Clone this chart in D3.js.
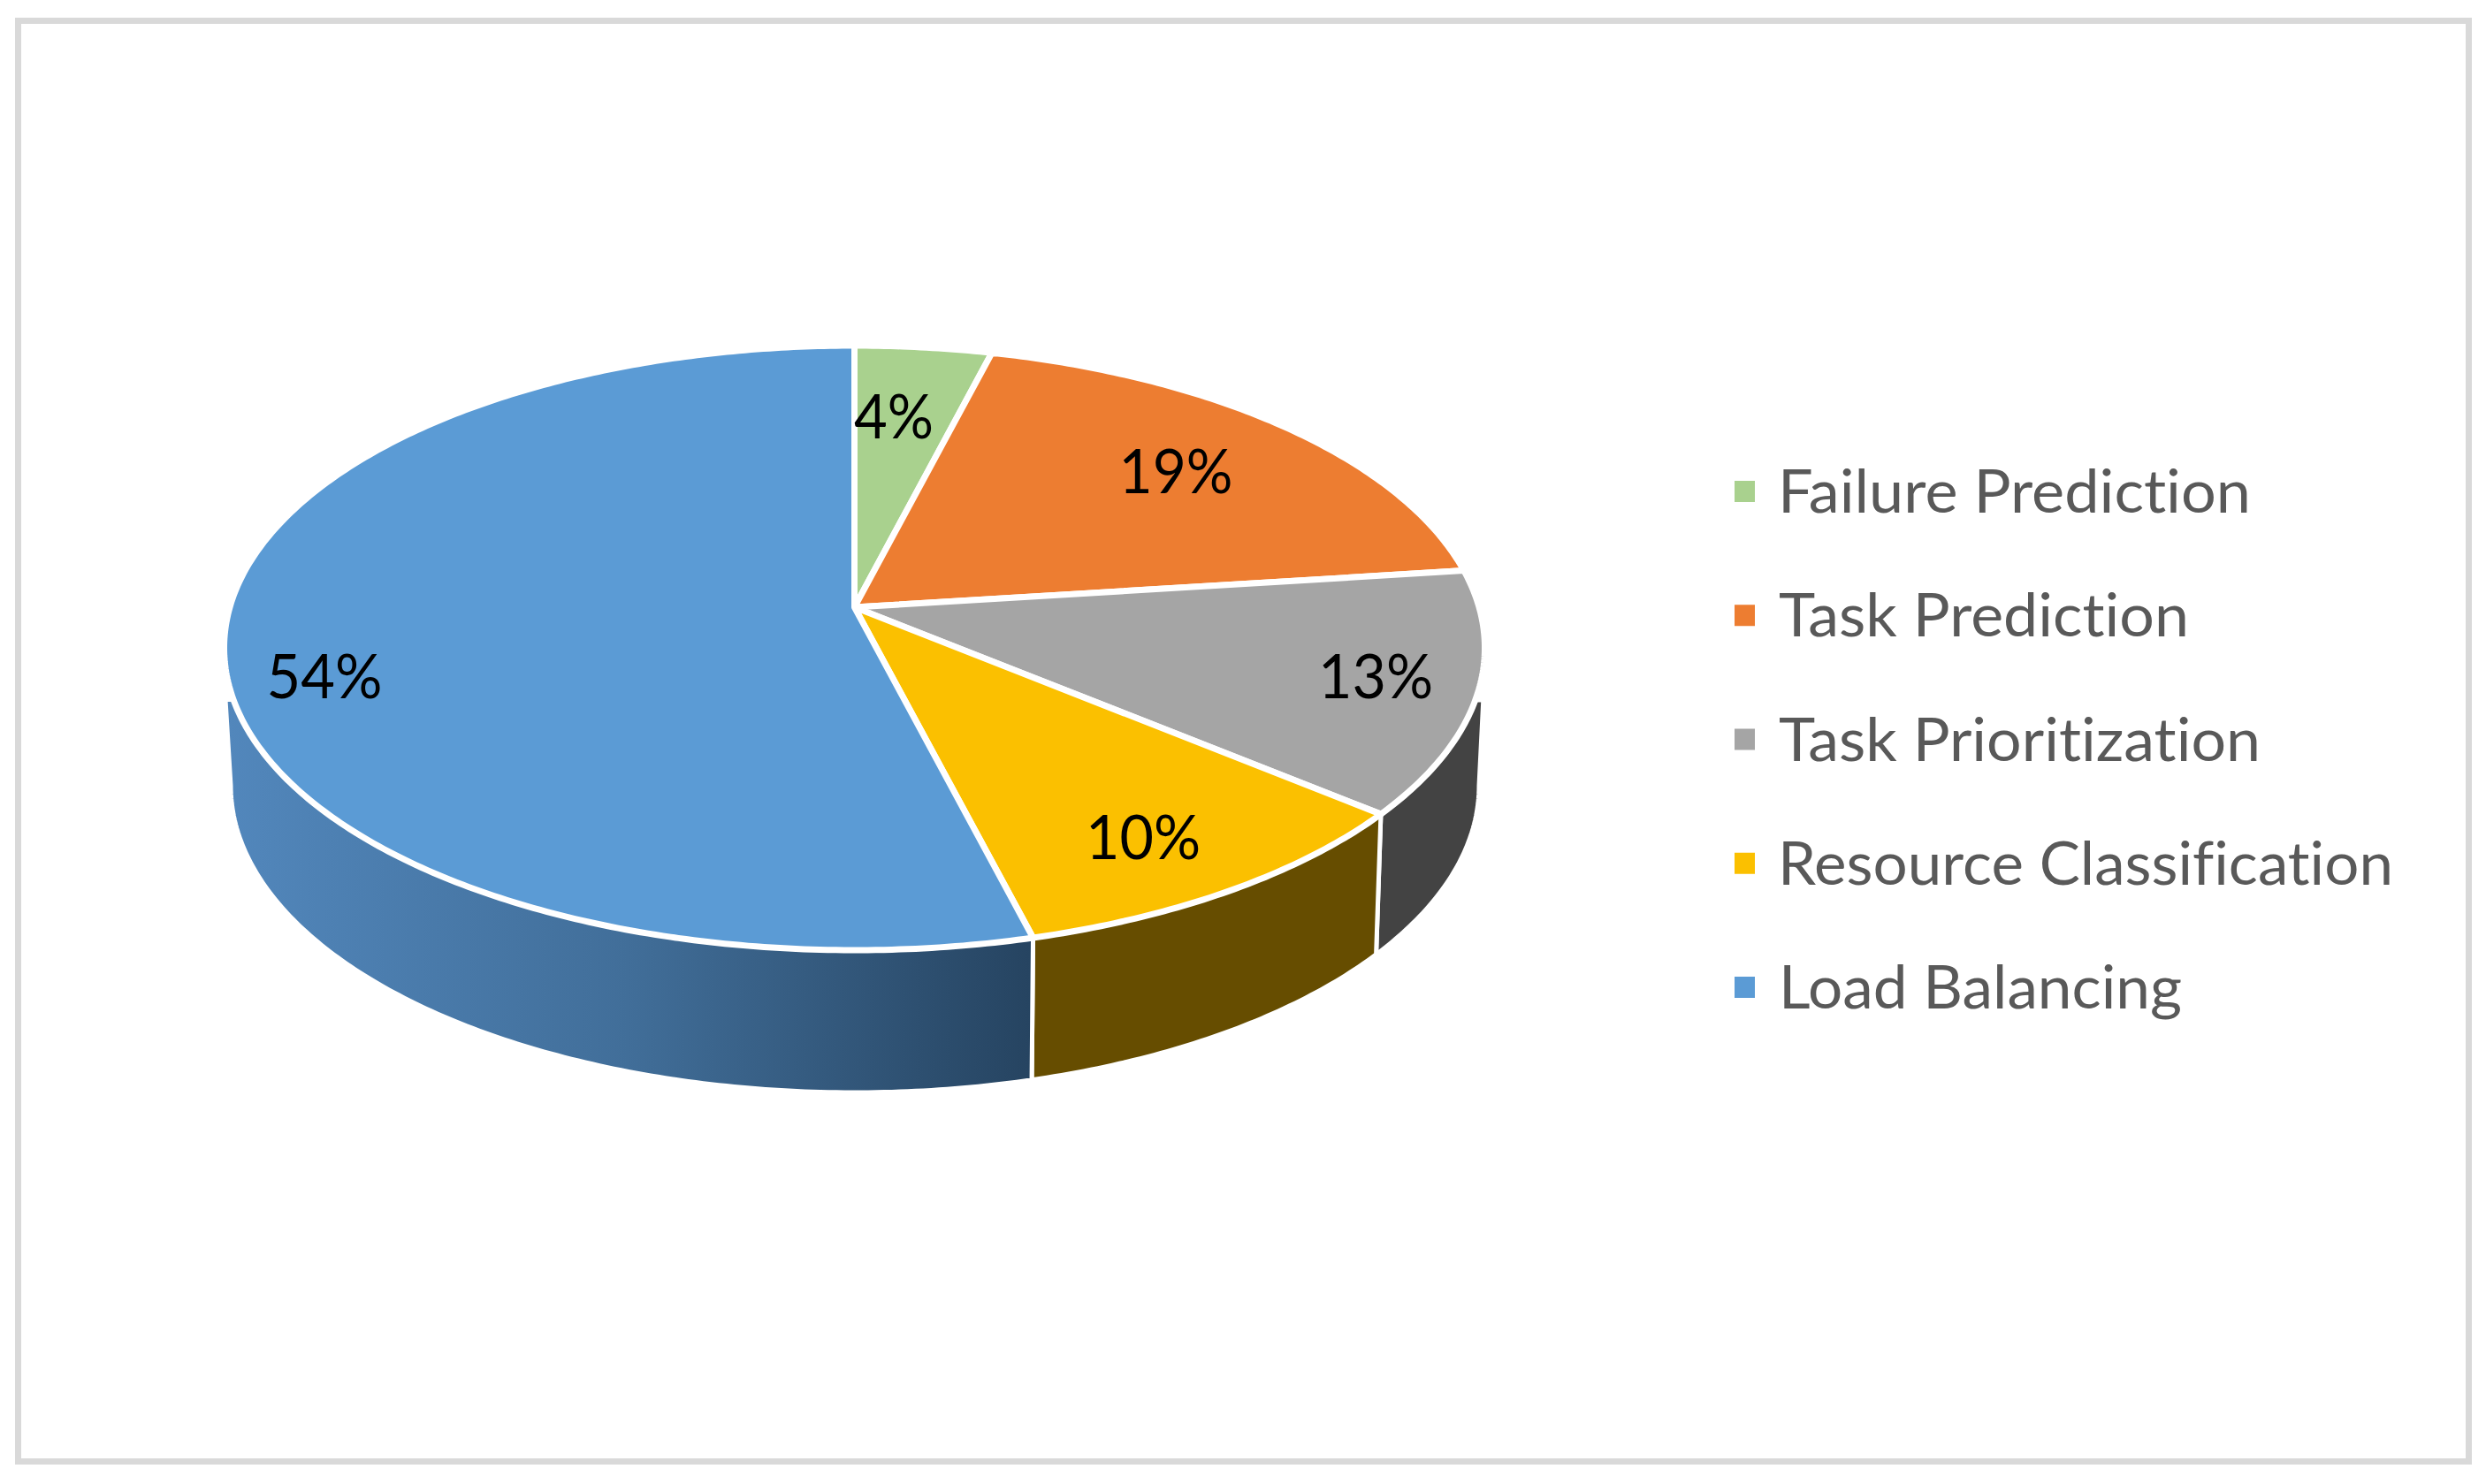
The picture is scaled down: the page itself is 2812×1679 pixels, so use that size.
<!DOCTYPE html>
<html><head><meta charset="utf-8">
<script src="https://cdn.jsdelivr.net/npm/d3@7"></script>
<style>html,body{margin:0;padding:0;background:#fff}svg{display:block}text{font-variant-ligatures:none;font-feature-settings:"liga" 0,"dlig" 0}</style>
</head><body><svg id="c" width="2812" height="1679"></svg>
<script>
const categories = ["Failure Prediction","Task Prediction","Task Prioritization","Resource Classification","Load Balancing"];
const values = [4,19,13,10,54];
const colors = ["#A9D18E","#ED7D31","#A5A5A5","#FBC000","#5B9BD5"];
const sideColors = [null,null,"#434343","#664D00","url(#blueSide)"];

const svg = d3.select("#c");
svg.append("rect").attr("x",20.5).attr("y",23.5).attr("width",2772).attr("height",1630)
  .attr("fill","#fff").attr("stroke","#D9D9D9").attr("stroke-width",7);

const top_ = {cx:966.5, cy:733, rx:713, ry:342};
const low  = {cx:967, cy:889, rx:706, ry:347};
const apexY = 687;
const d = (apexY-top_.cy)/top_.ry;
const proj = th => { // perspective map of a pie angle onto the unit disc of the ellipse
  const u=Math.sin(th), v=-Math.cos(th), w=1+d*v;
  return [u*Math.sqrt(1-d*d)/w, (v+d)/w];
};
const onE = (e,p)=>[e.cx+e.rx*p[0], e.cy+e.ry*p[1]];
const line = d3.line();
const arcs = d3.pie().sort(null).value(v=>v)(values);
const samples = a => { const n=Math.max(8,Math.ceil((a.endAngle-a.startAngle)*90));
  return d3.range(n+1).map(i=>a.startAngle+(a.endAngle-a.startAngle)*i/n); };

const defs = svg.append("defs");
const g = defs.append("linearGradient").attr("id","blueSide").attr("gradientUnits","userSpaceOnUse")
  .attr("x1",255).attr("x2",1166).attr("y1",0).attr("y2",0);
g.append("stop").attr("offset",0).attr("stop-color","#5287BC");
g.append("stop").attr("offset",0.5).attr("stop-color","#416E99");
g.append("stop").attr("offset",1).attr("stop-color","#264461");

const minY = 0.167, cornerOut = 9;
const sweep = (sgn) => { // lower silhouette from the side's extreme down to minY
  const s0=Math.asin(minY);
  return d3.range(0,13).map(i=>{const s=s0*i/12;return [low.cx+sgn*low.rx*Math.cos(s), low.cy+low.ry*Math.sin(s)];});
};
// sides
svg.append("g").selectAll("path").data(arcs.filter((a,i)=>sideColors[i])).join("path")
  .attr("d",a=>{
    const ps = samples(a).map(proj).filter(p=>p[1]>=minY);
    const t = ps.map(p=>onE(top_,p));
    const l = ps.slice().reverse().map(p=>onE(low,p));
    if(a.index===4){
      const e=t[t.length-1];
      return line(t.concat([[e[0]-cornerOut,e[1]]],sweep(-1),l))+"Z";
    }
    if(a.index===2){
      const s=t[0];
      return line([[s[0]+cornerOut,s[1]]].concat(t,l,sweep(1).reverse()))+"Z";
    }
    return line(t.concat(l))+"Z";
  })
  .attr("fill",a=>sideColors[a.index])
  .attr("stroke","#fff").attr("stroke-width",5).attr("stroke-linejoin","round");

// top face
svg.append("g").selectAll("path").data(arcs).join("path")
  .attr("d",a=>line([onE(top_,[0,d])].concat(samples(a).map(proj).map(p=>onE(top_,p))))+"Z")
  .attr("fill",(a)=>colors[a.index])
  .attr("stroke","#fff").attr("stroke-width",7).attr("stroke-linejoin","round");

// data labels
const labelPos = [[1011,496,90],[1330,558,129],[1556,790,130],[1293,972,130],[367,790,131]];
svg.append("g").selectAll("text").data(values).join("text")
  .attr("x",(v,i)=>labelPos[i][0]).attr("y",(v,i)=>labelPos[i][1])
  .attr("text-anchor","middle").attr("font-family","Lato").attr("font-size",69).attr("fill","#000")
  .attr("textLength",(v,i)=>labelPos[i][2]).attr("lengthAdjust","spacingAndGlyphs")
  .text(v=>v+"%");

// legend
const legendY = d3.scaleLinear().domain([0,4]).range([556,1117]);
const legendW = [[2011,535],[2012,464],[2012,545],[2011,696],[2012,456]];
const lg = svg.append("g").selectAll("g").data(categories).join("g");
lg.append("rect").attr("x",1962).attr("width",23).attr("height",24)
  .attr("y",(c,i)=>legendY(i)-12).attr("fill",(c,i)=>colors[i]);
lg.append("text").attr("x",(c,i)=>legendW[i][0]).attr("y",(c,i)=>legendY(i)+24)
  .attr("font-family","Lato").attr("font-size",68).attr("fill","#595959")
  .attr("textLength",(c,i)=>legendW[i][1]).attr("lengthAdjust","spacingAndGlyphs")
  .text(c=>c);
</script></body></html>
